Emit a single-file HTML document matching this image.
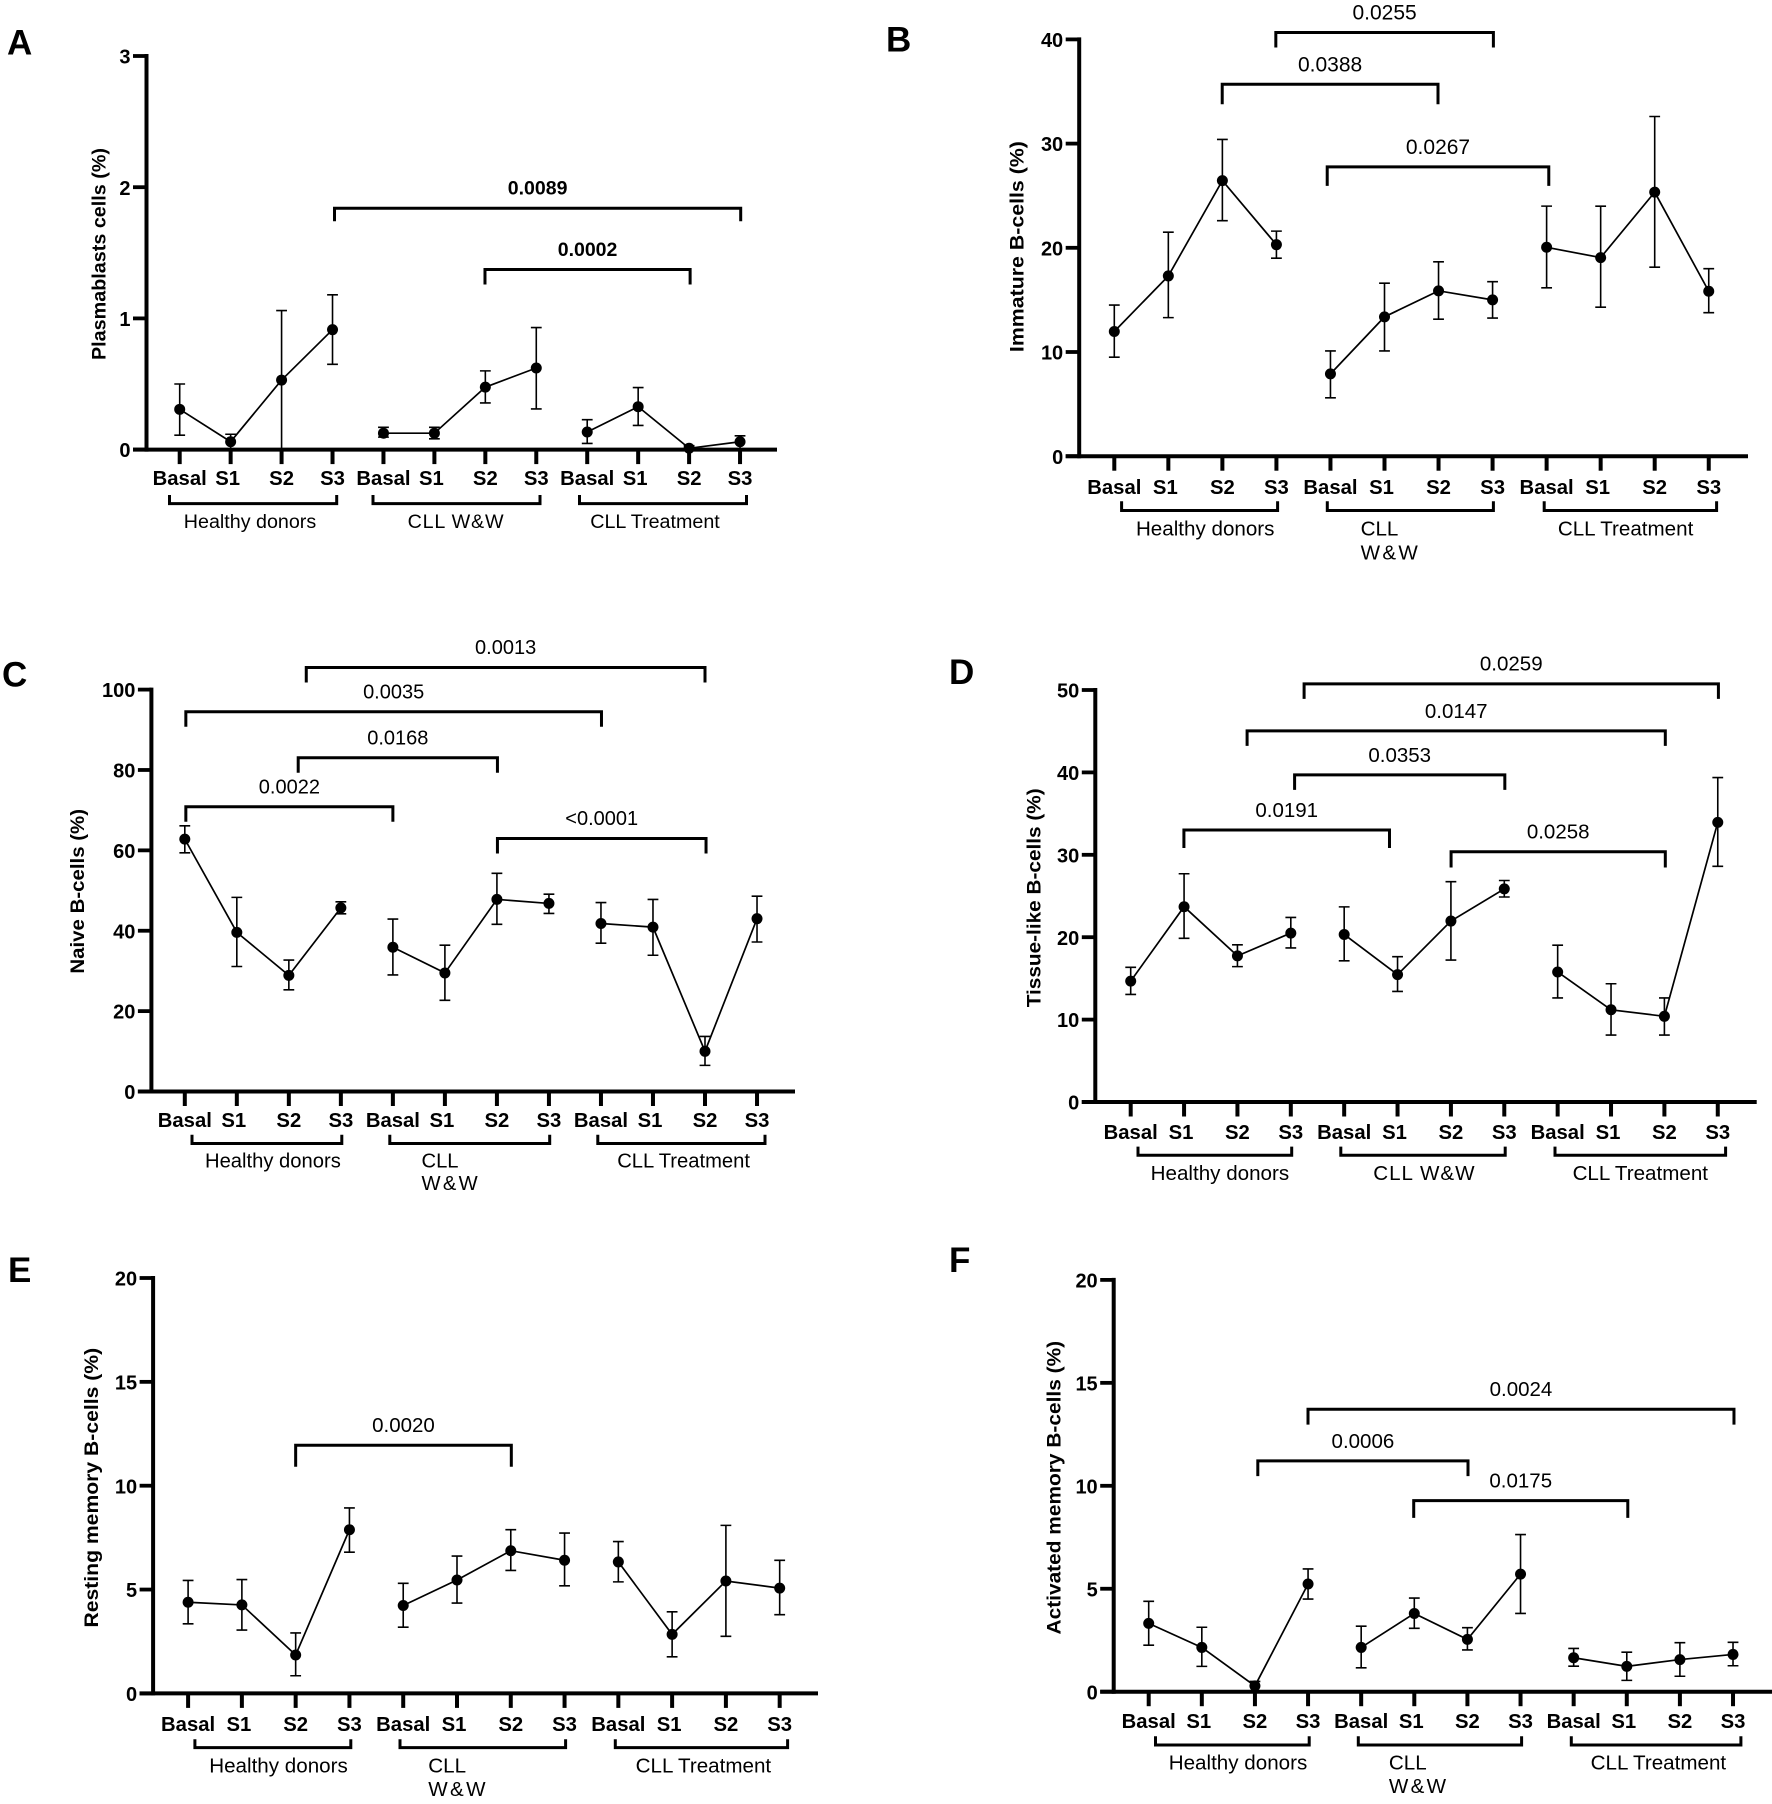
<!DOCTYPE html>
<html lang="en">
<head>
<meta charset="utf-8">
<title>B-cell subsets by stage</title>
<style>
html,body{margin:0;padding:0;background:#fff;}
#figure{display:block;width:1772px;height:1804px;background:#fff;}
text{font-family:"Liberation Sans",Arial,sans-serif;fill:#000;}
</style>
</head>
<body>
<svg id="figure" xmlns="http://www.w3.org/2000/svg" width="1772" height="1804" viewBox="0 0 1772 1804"></svg>
<script>
// ---------- shared labels ----------
const categories = ['Basal','S1','S2','S3','Basal','S1','S2','S3','Basal','S1','S2','S3'];

// ---------- panel A ----------
const ticksA = [0,1,2,3];
const meansA = [0.307,0.06,0.53,0.914, 0.125,0.125,0.476,0.622, 0.134,0.327,0.01,0.06];
const upperA = [0.50,0.117,1.06,1.18, 0.17,0.17,0.60,0.93, 0.228,0.473,0.03,0.105];
const lowerA = [0.11,0,0,0.65, 0.095,0.082,0.356,0.31, 0.047,0.184,0,0];
const pLabelsA = ['0.0089','0.0002'];
const pFromA = [3.039,5.993];
const pToA = [11.013,10.02];
const pLevelA = [1.84,1.3725];

// ---------- panel B ----------
const ticksB = [0,10,20,30,40];
const meansB = [11.97,17.3,26.45,20.3, 7.9,13.37,15.87,15, 20.05,19.06,25.34,15.83];
const upperB = [14.5,21.5,30.4,21.6, 10.1,16.6,18.66,16.75, 24,23.99,32.6,18];
const lowerB = [9.5,13.3,22.6,19, 5.6,10.1,13.15,13.26, 16.16,14.3,18.14,13.77];
const pLabelsB = ['0.0255','0.0388','0.0267'];
const pFromB = [2.989,1.997,3.94];
const pToB = [7.015,5.99,8.04];
const pLevelB = [40.66,35.7,27.77];

// ---------- panel C ----------
const ticksC = [0,20,40,60,80,100];
const meansC = [62.8,39.6,28.9,45.7, 35.9,29.5,47.8,46.8, 41.8,40.9,10,43];
const upperC = [66.1,48.3,32.7,47.2, 42.9,36.4,54.3,49.1, 47,47.8,13.7,48.6];
const lowerC = [59.4,31.1,25.3,44.2, 29,22.7,41.6,44.3, 36.9,33.9,6.5,37.2];
const pLabelsC = ['0.0013','0.0035','0.0168','0.0022','<0.0001'];
const pFromC = [2.335,0.02,2.18,0.02,6.01];
const pToC = [10,8.01,6.01,4,10.02];
const pLevelC = [105.5,94.48,83.03,70.84,62.95];

// ---------- panel D ----------
const ticksD = [0,10,20,30,40,50];
const meansD = [14.67,23.7,17.73,20.5, 20.33,15.46,21.96,25.86, 15.78,11.19,10.4,33.94];
const upperD = [16.34,27.7,19.08,22.4, 23.68,17.64,26.74,26.88, 19.03,14.35,12.63,39.37];
const lowerD = [13.05,19.87,16.43,18.7, 17.13,13.42,17.22,24.88, 12.63,8.12,8.12,28.6];
const pLabelsD = ['0.0259','0.0147','0.0353','0.0191','0.0258'];
const pFromD = [3.249,2.181,3.071,0.997,6.003];
const pToD = [11.012,10.017,7.01,4.849,10.017];
const pLevelD = [50.75,45.04,39.7,33.01,30.37];

// ---------- panel E ----------
const ticksE = [0,5,10,15,20];
const meansE = [4.39,4.26,1.85,7.88, 4.23,5.46,6.87,6.41, 6.33,2.84,5.41,5.07];
const upperE = [5.44,5.48,2.91,8.93, 5.3,6.61,7.88,7.72, 7.31,3.93,8.09,6.41];
const lowerE = [3.35,3.05,0.85,6.8, 3.19,4.35,5.92,5.18, 5.37,1.76,2.75,3.79];
const pLabelsE = ['0.0020'];
const pFromE = [2];
const pToE = [6.01];
const pLevelE = [11.95];

// ---------- panel F ----------
const ticksF = [0,5,10,15,20];
const meansF = [3.32,2.15,0.28,5.23, 2.15,3.8,2.54,5.71, 1.65,1.23,1.56,1.81];
const upperF = [4.39,3.13,0.5,5.96, 3.18,4.55,3.11,7.63, 2.1,1.92,2.38,2.4];
const lowerF = [2.26,1.23,0,4.5, 1.16,3.08,2.03,3.8, 1.24,0.55,0.75,1.26];
const pLabelsF = ['0.0024','0.0006','0.0175'];
const pFromF = [2.999,2.054,4.989];
const pToF = [11.018,6.011,9.019];
const pLevelF = [13.72,11.21,9.28];

// ---------- layout (geometry only) ----------
const panels = [
 {letter:'A',lx:7,ly:54.3,title:'Plasmablasts cells (%)',tx:99,ty:254,tlen:212,
  ax:146.5,x0:179.7,dx:50.94,yT:56,yB:449.6,right:777,ticks:ticksA,means:meansA,upper:upperA,lower:lowerA,
  pl:pLabelsA,pf:pFromA,pt:pToA,pv:pLevelA,drops:[13,15],pBold:true,pSize:19.5,glSize:19.7,wwSpace:0.8,
  catY:477.6,gb:[[169.5,336.7],[373,540],[579.5,746.5]],gbT:495,gbB:503.6,glY:521.6,
  gl:[['Healthy donors',250,'middle'],['CLL W&W',456,'middle'],['CLL Treatment',655,'middle']]},
 {letter:'B',lx:886,ly:51.5,title:'Immature B-cells (%)',tx:1017,ty:246.6,tlen:211,
  ax:1079.2,x0:1114.3,dx:54.04,yT:39.4,yB:456.2,right:1748,ticks:ticksB,means:meansB,upper:upperB,lower:lowerB,
  pl:pLabelsB,pf:pFromB,pt:pToB,pv:pLevelB,drops:[15,20,19],pBold:false,pSize:21,glSize:20.6,wwSpace:0,
  catY:486.8,gb:[[1121.6,1277.6],[1327.3,1493.4],[1544.2,1716.6]],gbT:501.3,gbB:510.5,glY:528.9,gl2Y:553,
  gl:[['Healthy donors',1205.2,'middle'],['CLL',1360.6,'start'],['CLL Treatment',1625.6,'middle']]},
 {letter:'C',lx:2,ly:686.5,title:'Naive B-cells (%)',tx:77.4,ty:891.3,tlen:164.6,
  ax:151.4,x0:184.8,dx:52.02,yT:689.6,yB:1091.5,right:795,ticks:ticksC,means:meansC,upper:upperC,lower:lowerC,
  pl:pLabelsC,pf:pFromC,pt:pToC,pv:pLevelC,drops:[15,15,15,15,15],pBold:false,pSize:20,glSize:20.2,wwSpace:0,
  catY:1119.8,gb:[[192,341.8],[389.8,549.7],[597.8,765]],gbT:1134.7,gbB:1143.5,glY:1161,gl2Y:1183.7,
  gl:[['Healthy donors',272.9,'middle'],['CLL',421.5,'start'],['CLL Treatment',683.6,'middle']]},
 {letter:'D',lx:949,ly:684,title:'Tissue-like B-cells (%)',tx:1034,ty:897.8,tlen:219,
  ax:1095.3,x0:1130.7,dx:53.37,yT:690,yB:1102,right:1756.7,ticks:ticksD,means:meansD,upper:upperD,lower:lowerD,
  pl:pLabelsD,pf:pFromD,pt:pToD,pv:pLevelD,drops:[15,15,15,18,15.7],pBold:false,pSize:20.5,glSize:20.6,wwSpace:1,
  catY:1131.6,gb:[[1138,1291.7],[1340.8,1505.2],[1555,1725.6]],gbT:1146.6,gbB:1155.2,glY:1173.4,
  gl:[['Healthy donors',1219.9,'middle'],['CLL W&W',1424.4,'middle'],['CLL Treatment',1640.3,'middle']]},
 {letter:'E',lx:8,ly:1282,title:'Resting memory B-cells (%)',tx:91.5,ty:1487.7,tlen:279.7,
  ax:153.1,x0:188.1,dx:53.78,yT:1278,yB:1693.4,right:818,ticks:ticksE,means:meansE,upper:upperE,lower:lowerE,
  pl:pLabelsE,pf:pFromE,pt:pToE,pv:pLevelE,drops:[21.6],pBold:false,pSize:20.5,glSize:20.6,wwSpace:0,
  catY:1723.8,gb:[[194.9,350.8],[400,565.6],[615.3,787.6]],gbT:1739.2,gbB:1747.6,glY:1765.9,gl2Y:1789.4,
  gl:[['Healthy donors',278.5,'middle'],['CLL',428.3,'start'],['CLL Treatment',703.4,'middle']]},
 {letter:'F',lx:949,ly:1272,title:'Activated memory B-cells (%)',tx:1053.8,ty:1487.7,tlen:293.6,
  ax:1113.7,x0:1148.7,dx:53.12,yT:1279.9,yB:1691.7,right:1772,ticks:ticksF,means:meansF,upper:upperF,lower:lowerF,
  pl:pLabelsF,pf:pFromF,pt:pToF,pv:pLevelF,drops:[15.4,15.3,17.2],pBold:false,pSize:20.5,glSize:20.6,wwSpace:0,
  catY:1720.9,gb:[[1155.5,1309.2],[1358.3,1521.6],[1571.3,1740.9]],gbT:1736.3,gbB:1745,glY:1763,gl2Y:1786.4,
  gl:[['Healthy donors',1238,'middle'],['CLL',1388.9,'start'],['CLL Treatment',1658.4,'middle']]}
];

const NS = 'http://www.w3.org/2000/svg';
const svg = document.getElementById('figure');
function mk(tag, attrs, parent){
  const n = document.createElementNS(NS, tag);
  for(const k in attrs){ n.setAttribute(k, attrs[k]); }
  parent.appendChild(n);
  return n;
}
function drawLine(x1,y1,x2,y2,w,parent){
  return mk('line',{x1:x1,y1:y1,x2:x2,y2:y2,stroke:'#000','stroke-width':w},parent);
}
function drawText(str,x,y,size,weight,anchor,parent){
  const n = mk('text',{x:x,y:y,'font-size':size,'font-weight':weight,'text-anchor':anchor},parent);
  n.textContent = str;
  return n;
}

panels.forEach(function(p){
  const scaleY = function(v){ return p.yB - (v / p.ticks[p.ticks.length-1]) * (p.yB - p.yT); };
  const scaleX = function(i){ return p.x0 + i * p.dx; };

  const g = mk('g',{},svg);
  
  

  const letter = drawText(p.letter,p.lx,p.ly,35,'bold','start',g);
  
  

  const title = mk('text',{transform:'translate('+p.tx+','+p.ty+') rotate(-90)','font-size':19,'font-weight':'bold','text-anchor':'middle',y:6.5,textLength:p.tlen,lengthAdjust:'spacingAndGlyphs'},g);
  title.textContent = p.title;
  
  

  // axes
  const yAxis = drawLine(p.ax,p.yT-2,p.ax,p.yB+2,4,g);
  
  
  const xAxis = drawLine(p.ax-13.5,p.yB,p.right,p.yB,4,g);
  
  

  p.ticks.forEach(function(t){
    const y = scaleY(t);
    const tick = drawLine(p.ax-13.5,y,p.ax,y,3.8,g);
    
    
    const lab = drawText(String(t),p.ax-16,y+7.6,20,'bold','end',g);
    
    
  });

  categories.forEach(function(c,i){
    const x = scaleX(i);
    const tick = drawLine(x,p.yB,x,p.yB+14.5,4,g);
    
    
    const lab = drawText(c,x-(c==='S1'?3:0),p.catY+7.2,20.3,'bold','middle',g);
    
    
  });

  // group brackets under the axis
  p.gb.forEach(function(b){
    const gb = mk('path',{d:'M'+b[0]+' '+p.gbT+'V'+p.gbB+'H'+b[1]+'V'+p.gbT,fill:'none',stroke:'#000','stroke-width':3},g);
    
    
  });
  p.gl.forEach(function(l){
    const t = drawText(l[0],l[1],p.glY+6.5,p.glSize,'normal',l[2],g);
    if(l[0]==='CLL W&W'){ t.setAttribute('letter-spacing', p.wwSpace); }
    
    
    if(l[0]==='CLL'){
      const t2 = drawText('W&W',l[1],p.gl2Y+6.5,p.glSize,'normal','start',g);
      t2.setAttribute('letter-spacing', 2.3);
      
      
    }
  });

  // significance brackets
  p.pl.forEach(function(label,i){
    const x1 = scaleX(p.pf[i]), x2 = scaleX(p.pt[i]), y = scaleY(p.pv[i]), d = p.drops[i];
    const br = mk('path',{d:'M'+x1+' '+(y+d)+'V'+y+'H'+x2+'V'+(y+d),fill:'none',stroke:'#000','stroke-width':3},g);
    
    
    const t = drawText(label,(x1+x2)/2,y-20.5+p.pSize*0.36,p.pSize,p.pBold?'bold':'normal','middle',g);
    
    
  });

  // series: each of the three groups has its own connected line
  for(let grp=0;grp<3;grp++){
    const idx = [grp*4,grp*4+1,grp*4+2,grp*4+3];
    const line = mk('polyline',{points:idx.map(function(i){return scaleX(i)+','+scaleY(p.means[i]);}).join(' '),fill:'none',stroke:'#000','stroke-width':1.7},g);
    
    
    idx.forEach(function(i){
      const x = scaleX(i), hi = scaleY(p.upper[i]), lo = scaleY(p.lower[i]);
      const err = mk('path',{d:'M'+x+' '+hi+'V'+lo+'M'+(x-5.4)+' '+hi+'H'+(x+5.4)+'M'+(x-5.4)+' '+lo+'H'+(x+5.4),fill:'none',stroke:'#000','stroke-width':1.6},g);
      
      
      const dot = mk('circle',{cx:x,cy:scaleY(p.means[i]),r:5.5,fill:'#000'},g);
      
      
    });
  }
});
</script>
</body>
</html>
